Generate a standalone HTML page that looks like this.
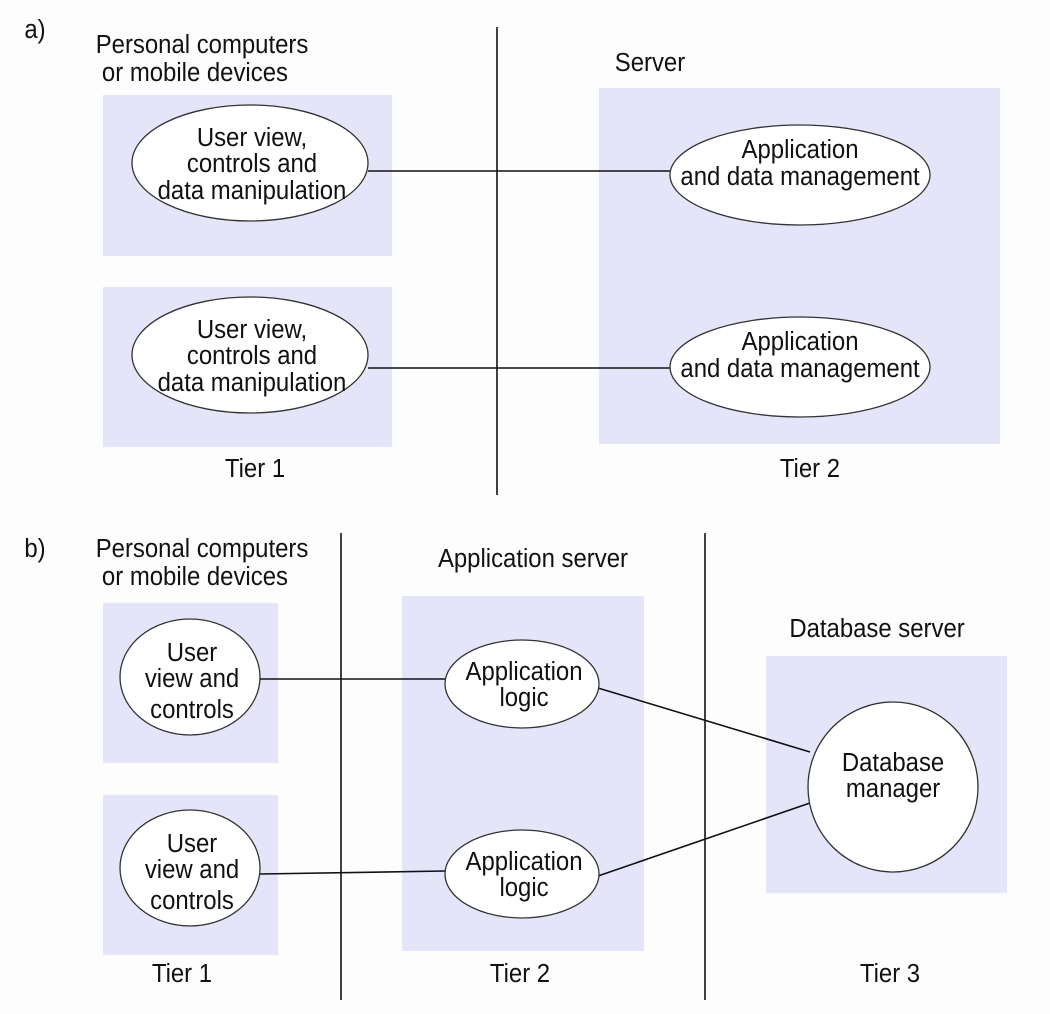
<!DOCTYPE html>
<html><head><meta charset="utf-8"><style>
html,body{margin:0;padding:0;background:#fff}
svg{display:block}
text{font-family:"Liberation Sans",sans-serif;font-size:26px;fill:#111;text-anchor:middle}
</style></head><body>
<svg width="1050" height="1014" viewBox="0 0 1050 1014" xmlns="http://www.w3.org/2000/svg">
<rect width="1050" height="1014" fill="#fdfdfd"/>
<g fill="#e5e5fa">
<rect x="103" y="95" width="289" height="161"/>
<rect x="103" y="287" width="289" height="160"/>
<rect x="599" y="88" width="401" height="356"/>
<rect x="103" y="603" width="175" height="160"/>
<rect x="103" y="795" width="175" height="160"/>
<rect x="402" y="596" width="242" height="355"/>
<rect x="766" y="656" width="241" height="237"/>
</g>
<g stroke="#111" stroke-width="1.6">
<line x1="497" y1="27" x2="497" y2="495"/>
<line x1="341" y1="533" x2="341" y2="1000"/>
<line x1="705" y1="533" x2="705" y2="1000"/>
<line x1="368" y1="171" x2="670" y2="171"/>
<line x1="368" y1="368" x2="670" y2="368"/>
<line x1="260" y1="679" x2="445" y2="679"/>
<line x1="260" y1="874" x2="445" y2="871"/>
<line x1="598" y1="688" x2="810" y2="752"/>
<line x1="598" y1="876" x2="810" y2="803"/>
</g>
<g fill="#fff" stroke="#333" stroke-width="1.3">
<ellipse cx="250" cy="163" rx="118" ry="58"/>
<ellipse cx="250" cy="355" rx="118" ry="58"/>
<ellipse cx="800" cy="175" rx="130" ry="50"/>
<ellipse cx="800" cy="367" rx="130" ry="50"/>
<ellipse cx="190" cy="677" rx="70" ry="58"/>
<ellipse cx="190" cy="868" rx="70" ry="58"/>
<ellipse cx="522" cy="684" rx="77" ry="44"/>
<ellipse cx="522" cy="874" rx="77" ry="44"/>
<circle cx="893" cy="787" r="85"/>
</g>
<g transform="scale(0.92,1)">
<text x="38" y="38">a)</text>
<text x="219.6" y="53">Personal computers</text>
<text x="211.9" y="81">or mobile devices</text>
<text x="706.5" y="71">Server</text>
<text x="273.9" y="146">User view,</text>
<text x="273.9" y="172">controls and</text>
<text x="273.9" y="199">data manipulation</text>
<text x="273.9" y="338">User view,</text>
<text x="273.9" y="364">controls and</text>
<text x="273.9" y="391">data manipulation</text>
<text x="869.6" y="158">Application</text>
<text x="869.6" y="185">and data management</text>
<text x="869.6" y="350">Application</text>
<text x="869.6" y="377">and data management</text>
<text x="277.2" y="477">Tier 1</text>
<text x="880.4" y="477">Tier 2</text>
<text x="38" y="557">b)</text>
<text x="219.6" y="557">Personal computers</text>
<text x="211.9" y="585">or mobile devices</text>
<text x="579.3" y="567">Application server</text>
<text x="953.3" y="637">Database server</text>
<text x="208.7" y="661">User</text>
<text x="208.7" y="687">view and</text>
<text x="208.7" y="718">controls</text>
<text x="208.7" y="852">User</text>
<text x="208.7" y="878">view and</text>
<text x="208.7" y="909">controls</text>
<text x="569.6" y="680">Application</text>
<text x="569.6" y="706">logic</text>
<text x="569.6" y="870">Application</text>
<text x="569.6" y="896">logic</text>
<text x="970.7" y="771">Database</text>
<text x="970.7" y="797">manager</text>
<text x="197.8" y="982">Tier 1</text>
<text x="565.2" y="982">Tier 2</text>
<text x="967.4" y="982">Tier 3</text>
</g>
</svg>
</body></html>
